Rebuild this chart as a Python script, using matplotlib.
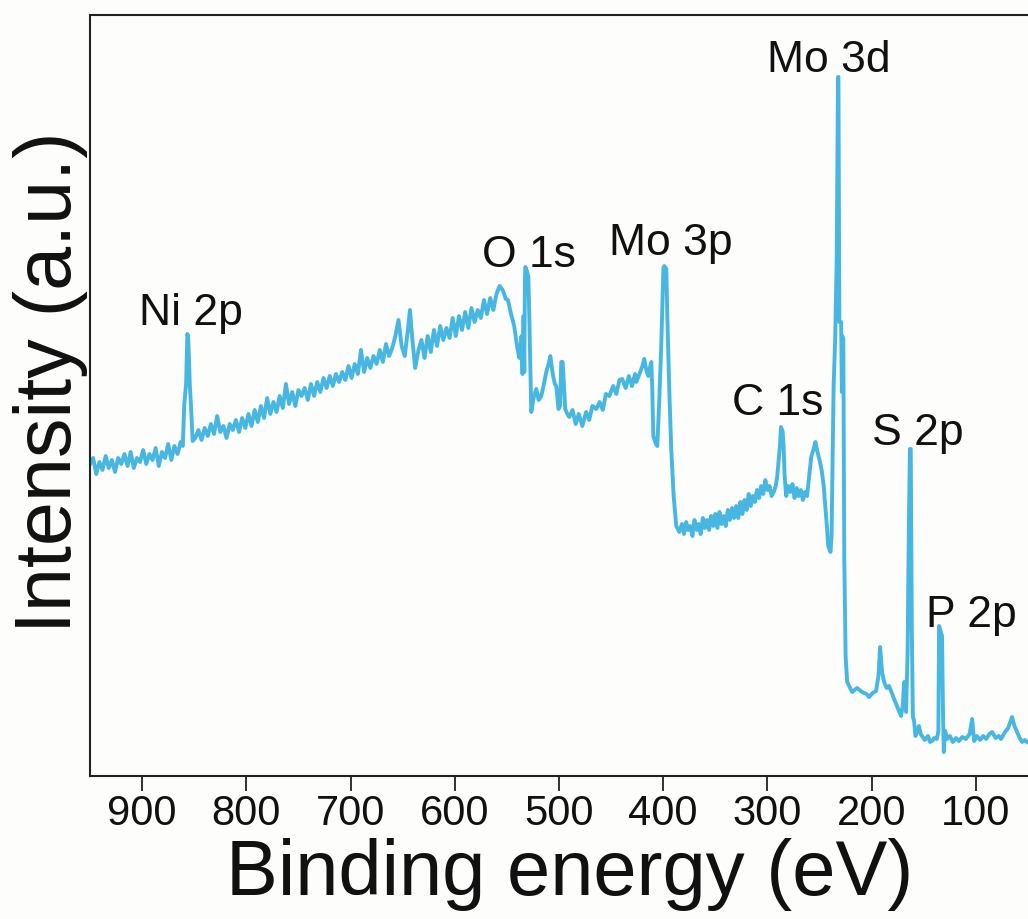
import matplotlib
matplotlib.use("Agg")
import matplotlib.pyplot as plt

# ---- data (binding energy in eV, intensity in arbitrary units) ----
energy = [
    950, 947, 944, 941, 938, 935, 932, 929, 926, 923, 920, 917, 914, 911, 908,
    905, 902, 899, 896, 893, 890, 887, 884, 881, 878, 875, 872, 869, 866, 863,
    861, 859.5, 857.8, 856.6, 855.8, 854.2, 853, 851.5,
    849, 846, 843, 840, 837, 834, 831, 828, 825, 822, 819, 816, 813, 810, 807,
    804, 801, 798, 795, 792, 789, 786, 783, 780, 777, 774, 771, 768, 765, 762,
    759, 756, 753, 750,
    747, 744, 741, 738, 735, 732, 729, 726, 723, 720, 717, 714, 711, 708, 705,
    702, 699, 696, 693, 690, 687, 684, 681, 678, 675, 672, 669, 666, 663, 660,
    657, 654, 651, 648, 645, 643, 641, 638, 635, 632, 629, 626, 623, 620, 617,
    614, 611, 608, 605, 602, 599, 596, 593, 590, 587, 584, 581, 578, 575, 572,
    569, 566, 563, 560, 557, 554, 551,
    549, 546, 543, 540, 538, 536, 535, 534, 533.3, 532.7, 532.3, 530.8, 529.4,
    528.5, 526.6, 524, 521.8, 519.5, 517, 514.5, 512.2, 510, 508.3, 506, 504,
    502.6, 500.5, 499, 497.8, 496.5, 494, 492, 490.1, 487, 484, 481, 477.6,
    474, 471, 468, 464.2, 461, 458, 455, 451.7, 448, 445, 442, 439.3, 436, 433,
    430, 427, 425.8, 422, 420, 418.2, 416, 414.3, 412, 411.4, 410.5, 409.5,
    407, 405.7, 404, 402, 399.8, 399, 397, 396.1, 394, 392.3, 390, 387.5,
    384.6, 382, 380, 378, 376, 374, 372, 370, 368, 366, 364, 362, 360, 358,
    356, 354, 352, 350, 348, 346, 344, 342, 340, 338, 336, 334, 332, 330, 328,
    326, 324, 322, 320, 318, 316, 314, 312, 310, 308, 306, 304, 302, 300, 298,
    296, 294, 292, 290.6, 288, 287, 285.5, 284.5, 283.5, 282, 280, 278, 276,
    274, 272, 270, 268, 266, 264, 262, 260, 258, 256, 254, 252, 250, 248, 246,
    244.5, 243, 241.7, 239.5, 238.5, 236.5, 235, 233.5, 232.3, 231.9, 231,
    229.3, 228.6, 228.2, 227.2, 226.3, 225, 223.5,
    218.8, 214, 209.2, 205, 202.5, 199, 195.8, 193.5, 191.9, 190, 188.1, 185.5,
    183.3, 181, 178.5, 175, 171.8, 170, 168.9, 167, 165.5, 164.3, 163.3, 162.5,
    161.5, 160.5, 159.2, 158, 156, 154.6, 153, 151.7, 149, 146, 144, 142.1,
    140, 137.5, 136, 135.3, 132.5, 131.5, 130.8, 129.5, 127.7, 125, 122, 119,
    116.3, 113, 109.6, 106, 103.6, 101.7, 99, 96, 93, 90.2, 87, 84.4, 81, 78,
    75.8, 72, 69, 65.3, 63, 60.5, 58, 55.7, 53, 50.9,
]

intensity = [
    312, 318, 302, 314, 306, 320, 308, 316, 304, 318, 312, 322, 310, 324, 308,
    318, 314, 326, 312, 322, 316, 328, 310, 324, 318, 332, 316, 330, 322, 334,
    330, 372, 392, 442, 440, 390, 368, 335,
    338, 346, 336, 348, 340, 352, 342, 360, 344, 350, 338, 352, 346, 356, 344,
    358, 348, 362, 350, 366, 354, 370, 358, 378, 362, 374, 364, 380, 368, 392,
    372, 384, 370, 386,
    380, 388, 376, 392, 380, 394, 384, 398, 388, 400, 390, 402, 394, 404, 396,
    410, 398, 412, 402, 426, 404, 418, 408, 420, 412, 426, 414, 432, 420, 428,
    440, 456, 430, 420, 446, 466, 440, 408, 425, 436, 418, 440, 424, 446, 430,
    450, 436, 448, 438, 458, 440, 460, 446, 464, 448, 468, 454, 466, 458, 476,
    462, 478, 466, 482, 490, 486, 477,
    476, 462, 450, 428, 418, 440, 402, 460, 404, 495, 509, 505, 499,
    460, 364, 380, 387, 376, 380, 392, 404, 412, 420, 402, 392,
    390, 367, 370, 414, 414, 367, 362, 359, 366, 352, 362, 350,
    364, 356, 370, 367, 374, 366, 382, 380, 390, 382, 396, 397, 388, 400,
    390, 402, 394, 404, 410, 417, 405, 400, 412, 414, 387, 340,
    332, 330, 370, 427, 508, 510, 507, 460, 380, 327, 280, 250,
    244, 252, 242, 254, 246, 250, 240, 256, 246, 252, 242, 258, 248, 256,
    246, 260, 250, 262, 248, 264, 252, 260, 250, 266, 256, 268, 258, 270, 258,
    274, 262, 276, 266, 282, 270, 280, 274, 286, 278, 290, 282, 296, 286, 290,
    280, 284, 290, 300, 330, 349, 345, 330, 300, 280, 290, 284, 292,
    278, 288, 280, 286, 276, 284, 280, 300, 319, 326, 334, 324, 316, 306, 290,
    270, 250, 230, 224, 240, 390, 437, 520, 699, 699, 454,
    454, 384, 440, 437, 220, 120, 94,
    84, 88, 84, 82, 79, 83, 85, 100, 129, 104, 94, 88,
    90, 84, 77, 68, 60, 72, 94, 64, 124, 250, 327, 327,
    150, 60, 54, 40, 46, 50, 42, 40, 36, 40, 34, 35,
    38, 37, 45, 150, 140, 60, 24, 45, 37, 40, 34, 38,
    35, 39, 37, 42, 57, 35, 40, 36, 40, 37, 42, 44, 38, 40,
    37, 44, 48, 59, 50, 44, 38, 34, 36, 34,
]

peak_labels = ["Ni 2p", "O 1s", "Mo 3p", "Mo 3d", "C 1s", "S 2p", "P 2p"]
label_energy = [852.7, 528.5, 392.8, 240.7, 290.6, 155.3, 104.5]
label_intensity = [452, 510, 522, 705, 362, 332, 150]

xtick_values = [900, 800, 700, 600, 500, 400, 300, 200, 100]

# ---- figure ----
plt.rcParams['font.family'] = ['Liberation Sans', 'DejaVu Sans']

fig = plt.figure(figsize=(10.28, 9.2), dpi=100, facecolor='#fdfdfc')
ax = fig.add_axes([90 / 1028, 143 / 920, 938 / 1028, 761 / 920])
ax.set_facecolor('#fdfdfc')

ax.plot(energy, intensity, color='#47b7e1', lw=2.8, solid_joinstyle='round')

ax.set_xlim(950, 50)
ax.set_ylim(0, 761)

ax.set_xticks(xtick_values)
ax.set_xticklabels([str(v) for v in xtick_values])
ax.set_yticks([])
ax.tick_params(axis='x', direction='out', length=11, width=1.3,
               labelsize=30, pad=1, color='#222222', labelcolor='#111111')

for side in ['left', 'bottom', 'top']:
    ax.spines[side].set_linewidth(1.5)
    ax.spines[side].set_color('#222222')
ax.spines['right'].set_visible(False)

for txt, ex, iy in zip(peak_labels, label_energy, label_intensity):
    ax.text(ex, iy, txt, ha='center', va='baseline', fontsize=32, color='#111111')

ax.set_xlabel('Binding energy (eV)', fontsize=56, color='#111111', va='baseline')
ax.xaxis.set_label_coords((570 - 90) / 938, -(895 - 777) / 761)
ax.set_ylabel('Intensity (a.u.)', fontsize=57, color='#111111', va='baseline')
ax.yaxis.set_label_coords(-(90 - 71) / 938, (777 - 382) / 761)

fig.savefig('out.png', dpi=100, facecolor=fig.get_facecolor())
